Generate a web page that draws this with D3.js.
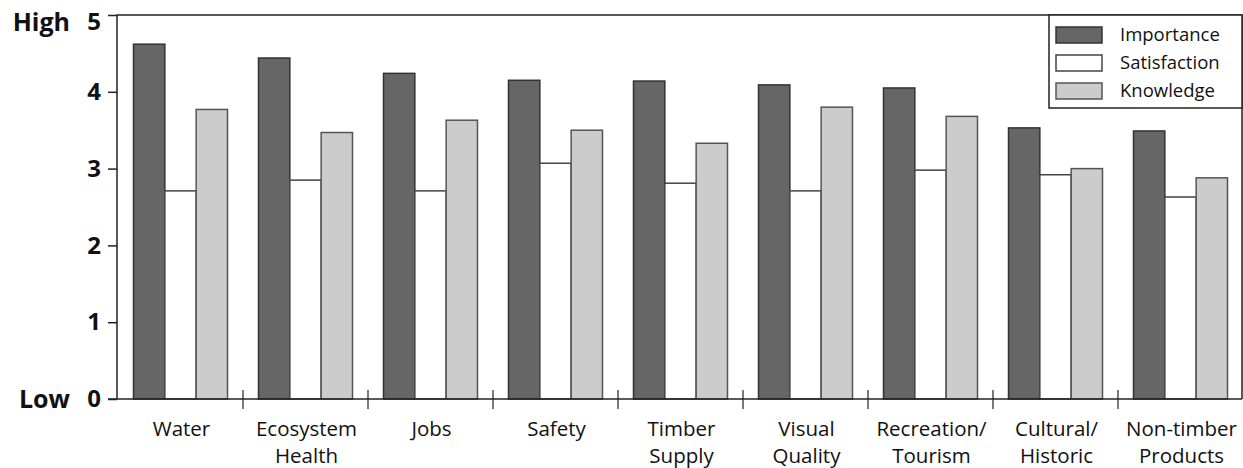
<!DOCTYPE html>
<html>
<head>
  <meta charset="UTF-8">
  <script src="https://d3js.org/d3.v7.min.js"></script>
  <style>
    body { margin: 0; background: #fff; }
    svg { display: block; font-family: 'Open Sans', sans-serif; }
  </style>
</head>
<body>
  <svg width="1243" height="468"></svg>
  <script>
    const categories = ["Water", "Ecosystem\nHealth", "Jobs", "Safety", "Timber\nSupply",
                        "Visual\nQuality", "Recreation/\nTourism", "Cultural/\nHistoric", "Non-timber\nProducts"];
    const series = ["Importance", "Satisfaction", "Knowledge"];
    const importance   = [4.62, 4.44, 4.24, 4.15, 4.14, 4.09, 4.05, 3.53, 3.49];
    const satisfaction = [2.71, 2.85, 2.71, 3.07, 2.81, 2.71, 2.98, 2.92, 2.63];
    const knowledge    = [3.77, 3.47, 3.63, 3.50, 3.33, 3.80, 3.68, 3.00, 2.88];
    const yTicks = [0, 1, 2, 3, 4, 5];

    const fills   = { Importance: "#666666", Satisfaction: "#ffffff", Knowledge: "#cccccc" };
    const strokes = { Importance: "#333333", Satisfaction: "#444444", Knowledge: "#555555" };

    const svg = d3.select("svg");
    const plotL = 117, plotR = 1242, plotT = 15, plotB = 399;

    const x = d3.scaleBand().domain(categories).range([118, 1243]);
    const xs = d3.scaleBand().domain(series).range([15.5, 109.5]);
    const y = d3.scaleLinear().domain([0, 5]).range([plotB, plotT]);

    const rows = categories.map((c, i) => ({
      cat: c,
      vals: [importance[i], satisfaction[i], knowledge[i]]
    }));

    // bars
    const groups = svg.append("g").selectAll("g")
      .data(rows).enter().append("g")
      .attr("transform", d => `translate(${x(d.cat)},0)`);

    groups.selectAll("rect")
      .data(d => series.map((s, j) => ({ s, v: d.vals[j] })))
      .enter().append("rect")
      .attr("x", d => xs(d.s))
      .attr("width", xs.bandwidth())
      .attr("y", d => y(d.v))
      .attr("height", d => y(0) - y(d.v))
      .attr("fill", d => fills[d.s])
      .attr("stroke", d => strokes[d.s])
      .attr("stroke-width", 1.5);

    // frame
    svg.append("path")
      .attr("d", `M${plotL},${plotB}V${plotT}H${plotR}V${plotB}`)
      .attr("fill", "none").attr("stroke", "#222").attr("stroke-width", 1.5);
    svg.append("line")
      .attr("x1", 108).attr("x2", plotR).attr("y1", plotB).attr("y2", plotB)
      .attr("stroke", "#222").attr("stroke-width", 1.5);

    // y axis
    const yAxis = svg.append("g")
      .attr("transform", `translate(${plotL},0)`)
      .call(d3.axisLeft(y).tickValues(yTicks).tickSize(9).tickPadding(7).tickFormat(d3.format("d")));
    yAxis.select(".domain").remove();
    yAxis.selectAll(".tick line").attr("stroke", "#222").attr("stroke-width", 1.5);
    yAxis.selectAll(".tick text")
      .attr("font-family", "'Open Sans', sans-serif")
      .attr("font-size", 24).attr("font-weight", "bold").attr("fill", "#111");
    // top label sits a little lower so it stays inside the picture
    yAxis.selectAll(".tick text").filter(d => d === 5).attr("dy", "0.62em");

    svg.append("text").attr("x", 70).attr("y", y(5)).attr("dy", "0.62em")
      .attr("text-anchor", "end").attr("font-size", 25).attr("font-weight", "bold")
      .attr("fill", "#111").text("High");
    svg.append("text").attr("x", 70).attr("y", y(0)).attr("dy", "0.35em")
      .attr("text-anchor", "end").attr("font-size", 25).attr("font-weight", "bold")
      .attr("fill", "#111").text("Low");

    // category divider ticks
    svg.append("g").selectAll("line")
      .data(categories.slice(1)).enter().append("line")
      .attr("x1", d => x(d)).attr("x2", d => x(d))
      .attr("y1", plotB - 9).attr("y2", plotB + 10)
      .attr("stroke", "#222").attr("stroke-width", 1.2);

    // category labels
    const labels = svg.append("g").selectAll("text")
      .data(categories).enter().append("text")
      .attr("x", d => x(d) + x.bandwidth() / 2 + 1)
      .attr("y", 436)
      .attr("text-anchor", "middle")
      .attr("font-size", 20.5)
      .attr("fill", "#111");
    labels.each(function(d) {
      const t = d3.select(this);
      d.split("\n").forEach((line, i) => {
        t.append("tspan").attr("x", t.attr("x")).attr("dy", i === 0 ? 0 : 27).text(line);
      });
    });

    // legend
    const legend = svg.append("g");
    legend.append("rect")
      .attr("x", 1049).attr("y", plotT).attr("width", plotR - 1049).attr("height", 93)
      .attr("fill", "#fff").attr("stroke", "#222").attr("stroke-width", 1.5);
    const items = legend.selectAll("g.item")
      .data(series).enter().append("g")
      .attr("transform", (d, i) => `translate(1056,${27 + i * 28})`);
    items.append("rect")
      .attr("width", 46).attr("height", 16)
      .attr("fill", d => fills[d]).attr("stroke", d => strokes[d]).attr("stroke-width", 1.5);
    items.append("text")
      .attr("x", 64).attr("y", 8).attr("dy", "0.35em")
      .attr("font-size", 18.5).attr("fill", "#111")
      .text(d => d);
  </script>
</body>
</html>
